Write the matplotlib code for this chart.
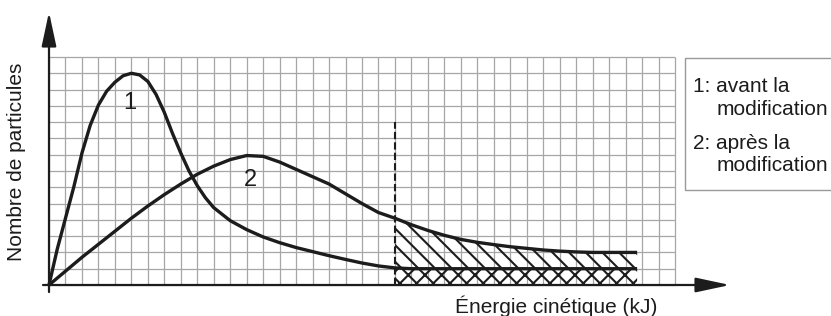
import numpy as np
import matplotlib
matplotlib.use("Agg")
import matplotlib.pyplot as plt
from matplotlib.patches import Rectangle

plt.rcParams['font.family'] = ['Liberation Sans', 'DejaVu Sans']
plt.rcParams['hatch.linewidth'] = 1.5

# ---- data (grid units) ----
x1 = [0, 0.5, 1, 1.5, 2, 2.5, 3, 3.5, 4, 4.5, 5, 5.5, 6, 6.5, 7, 7.5, 8, 8.5, 9, 9.5,
      10, 11, 12, 13, 14, 15, 16, 17, 18, 19, 20, 21, 22, 35.7]
y1 = [0, 2.2, 4.1, 6.0, 8.1, 9.8, 11.05, 11.9, 12.45, 12.85, 13.0, 12.9, 12.5, 11.7, 10.6,
      9.3, 8.1, 7.0, 6.1, 5.35, 4.75, 3.95, 3.4, 2.95, 2.6, 2.3, 2.05, 1.8, 1.57, 1.35,
      1.17, 1.05, 1.0, 1.0]

x2 = [0, 1, 2, 3, 4, 5, 6, 7, 8, 9, 10, 11, 12, 13, 14, 15, 16, 17, 18, 19, 20, 21,
      22, 23, 24, 25, 26, 27, 28, 29, 30, 31, 32, 33, 35.7]
y2 = [0, 0.85, 1.7, 2.5, 3.3, 4.1, 4.85, 5.55, 6.2, 6.8, 7.3, 7.7, 7.95, 7.9, 7.55,
      7.1, 6.65, 6.2, 5.6, 5.0, 4.45, 4.1, 3.7, 3.35, 3.05, 2.8, 2.62, 2.48, 2.35,
      2.25, 2.15, 2.08, 2.03, 2.0, 2.0]

threshold = 21.0
threshold_top = 10.0
grid_nx, grid_ny = 38, 14

curve_labels = ["1", "2"]
curve_label_pos = [(4.92, 11.2), (12.2, 6.45)]
legend_lines = ["1: avant la", "modification", "2: après la", "modification"]
xlabel = "Énergie cinétique (kJ)"
ylabel = "Nombre de particules"

# ---- figure ----
W, H = 831, 316
fig = plt.figure(figsize=(W / 100, H / 100), dpi=100)
ax = fig.add_axes([0, 0, 1, 1])
sx = (675 - 49) / grid_nx
sy = (285 - 57) / grid_ny
ax.set_xlim(-49 / sx, (W - 49) / sx)
ax.set_ylim(-(H - 285) / sy, 285 / sy)
ax.axis('off')

def px_to_data(px, py):
    return (px - 49) / sx, (285 - py) / sy

ink = '#1c1c1c'

# grid
ax.vlines(np.arange(0, grid_nx + 1), 0, grid_ny, color='#a6a6a6', lw=0.9, zorder=1)
ax.hlines(np.arange(0, grid_ny + 1), 0, grid_nx, color='#a6a6a6', lw=0.9, zorder=1)

# hatched areas
x2a = np.array(x2); y2a = np.array(y2)
m = x2a >= threshold
xh = x2a[m]
y1h = np.interp(xh, x1, y1)
ax.fill_between(xh, 0, y1h, facecolor='none', edgecolor=ink, hatch='xx', lw=0, zorder=2)
ax.fill_between(xh, y1h, y2a[m], facecolor='none', edgecolor=ink, hatch='\\\\', lw=0, zorder=2)

# curves
ax.plot(x1, y1, color=ink, lw=2.4, solid_capstyle='butt', zorder=4)
ax.plot(x2, y2, color=ink, lw=2.4, solid_capstyle='butt', zorder=4)

# threshold dashed line
ax.plot([threshold, threshold], [0, threshold_top], color=ink, lw=1.5,
        linestyle=(0, (3.5, 1.5)), zorder=4)

# axes with arrows
xs, _ = px_to_data(43, 0)
_, ys = px_to_data(0, 292)
xt, _ = px_to_data(730, 0)
_, yt = px_to_data(0, 12)
ap = dict(arrowstyle='-|>,head_length=2.1,head_width=0.45', color=ink, lw=1.6,
          mutation_scale=10, shrinkA=0, shrinkB=0)
ax.annotate('', xy=(xt, 0), xytext=(xs, 0), arrowprops=ap, zorder=5)
ax.annotate('', xy=(0, yt), xytext=(0, ys), arrowprops=ap, zorder=5)

# curve labels
for lab, (lx, ly) in zip(curve_labels, curve_label_pos):
    ax.text(lx, ly, lab, fontsize=17, color=ink, ha='center', va='center', zorder=6)

# axis labels
tx, ty = px_to_data(455, 313)
ax.text(tx, ty, xlabel, fontsize=15, color=ink, ha='left', va='baseline')
lx, ly = px_to_data(17, 161.5)
ax.text(lx, ly, ylabel, fontsize=15, color=ink, rotation=90, ha='center', va='center')

# legend box
bx0, by0 = px_to_data(685, 190)
bx1, by1 = px_to_data(870, 58)
ax.add_patch(Rectangle((bx0, by0), bx1 - bx0, by1 - by0, facecolor='white',
                       edgecolor='#999999', lw=1.0, zorder=3, clip_on=False))
leg_x = [693, 717, 693, 717]
leg_base = [92, 115, 149, 171]
for t, px, py in zip(legend_lines, leg_x, leg_base):
    dx, dy = px_to_data(px, py)
    ax.text(dx, dy, t, fontsize=15, color=ink, ha='left', va='baseline', zorder=6)

fig.savefig('out.png', dpi=100, facecolor='white')
